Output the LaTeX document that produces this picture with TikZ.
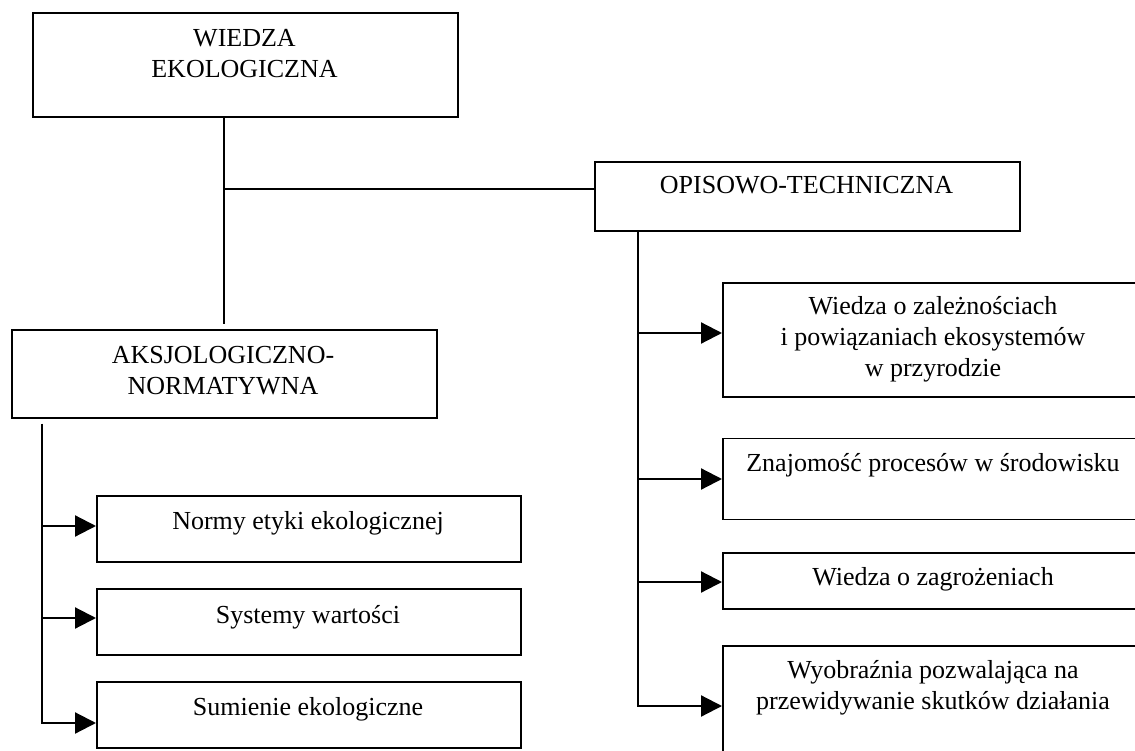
\documentclass[tikz,border=0pt]{standalone}
\usepackage{fontspec}
\setmainfont{Liberation Serif}
\usetikzlibrary{arrows.meta}

\tikzset{
  box/.style={draw, line width=1.6pt, inner sep=0pt, anchor=north west},
  txt/.style={anchor=base, inner sep=0pt, font=\fontsize{26}{31}\selectfont},
  ln/.style={line width=2.2pt},
  arr/.style={line width=2.2pt, -{Triangle[length=21pt,width=21pt]}},
}
\newcommand{\lines}[1]{\begin{tabular}[t]{@{}c@{}}#1\end{tabular}}

\begin{document}
\begin{tikzpicture}[x=1pt, y=-1pt]
  \useasboundingbox (0,0) rectangle (1135,751);
  \clip (0,0) rectangle (1135,751);

  % boxes
  \node[box, minimum width=425pt, minimum height=104pt] (wiedza) at (32,12) {};
  \node[box, minimum width=425pt, minimum height=69pt]  (opis)   at (594,161) {};
  \node[box, minimum width=425pt, minimum height=88pt]  (aksj)   at (11,329) {};

  \node[box, minimum width=424pt, minimum height=66pt] (lb1) at (96,495) {};
  \node[box, minimum width=424pt, minimum height=66pt] (lb2) at (96,588) {};
  \node[box, minimum width=424pt, minimum height=66pt] (lb3) at (96,681) {};

  \node[box, minimum width=422pt, minimum height=114pt] (rb1) at (722,282) {};
  \node[box, minimum width=422pt, minimum height=81pt]  (rb2) at (722,437.5) {};
  \node[box, minimum width=422pt, minimum height=56pt]  (rb3) at (722,552) {};
  \node[box, minimum width=422pt, minimum height=130pt] (rb4) at (722,645) {};

  % labels
  \node[txt] (wiedza-t) at (244.5,47) {\lines{WIEDZA\\EKOLOGICZNA}};
  \node[txt] (opis-t)   at (806.5,194) {OPISOWO-TECHNICZNA};
  \node[txt] (aksj-t)   at (223,363) {\lines{AKSJOLOGICZNO-\\NORMATYWNA}};

  \node[txt] (lb1-t) at (308,529) {Normy etyki ekologicznej};
  \node[txt] (lb2-t) at (308,623) {Systemy wartości};
  \node[txt] (lb3-t) at (308,715) {Sumienie ekologiczne};

  \node[txt] (rb1-t) at (933,315) {\lines{Wiedza o zależnościach\\i powiązaniach ekosystemów\\w przyrodzie}};
  \node[txt] (rb2-t) at (933,471) {Znajomość procesów w środowisku};
  \node[txt] (rb3-t) at (933,585) {Wiedza o zagrożeniach};
  \node[txt] (rb4-t) at (933,678) {\lines{Wyobraźnia pozwalająca na\\przewidywanie skutków działania}};

  % branch points
  \coordinate (j1) at (223,189);
  \coordinate (r1) at (638,333);
  \coordinate (r2) at (638,479);
  \coordinate (r3) at (638,582);
  \coordinate (r4) at (638,706);
  \coordinate (l1) at (42,526);
  \coordinate (l2) at (42,618);
  \coordinate (l3) at (42,723);

  % upper connectors
  \draw[ln] (wiedza.south -| aksj.north) -- ([yshift=5pt]aksj.north);
  \draw[ln] (j1) -- (j1 -| opis.west);

  % right branch
  \draw[arr] (opis.south -| r1) -- (r4) -- (r4 -| rb4.west);
  \draw[arr] (r1) -- (r1 -| rb1.west);
  \draw[arr] (r2) -- (r2 -| rb2.west);
  \draw[arr] (r3) -- (r3 -| rb3.west);

  % left branch
  \draw[arr] ([yshift=-5pt]aksj.south -| l1) -- (l3) -- (l3 -| lb3.west);
  \draw[arr] (l1) -- (l1 -| lb1.west);
  \draw[arr] (l2) -- (l2 -| lb2.west);
\end{tikzpicture}
\end{document}
